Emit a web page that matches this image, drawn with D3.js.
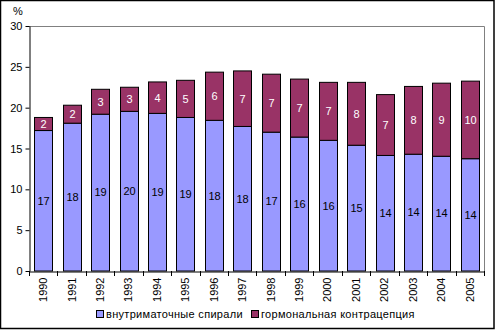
<!DOCTYPE html>
<html><head><meta charset="utf-8">
<script src="https://cdn.jsdelivr.net/npm/d3@7"></script>
<style>body{margin:0;background:#fff}svg{display:block}</style>
</head><body>
<script>
const years = ["1990","1991","1992","1993","1994","1995","1996","1997","1998","1999","2000","2001","2002","2003","2004","2005"];
const iud = [17.2,18.1,19.2,19.55,19.3,18.8,18.45,17.7,17.0,16.4,16.0,15.4,14.15,14.3,14.05,13.75];
const hormonal = [1.6,2.2,3.05,2.95,3.85,4.55,5.9,6.8,7.1,7.1,7.1,7.7,7.45,8.3,8.95,9.5];
const seriesNames = ["внутриматочные спирали","гормональная контрацепция"];
const yTicks = [0,5,10,15,20,25,30];

const W=495,H=330;
const font="'Liberation Sans', Arial, sans-serif";
const svg=d3.select("body").append("svg").attr("width",W).attr("height",H);
svg.append("rect").attr("x",0.5).attr("y",0.5).attr("width",W-1.5).attr("height",H-2).attr("fill","#fff").attr("stroke","#000").attr("stroke-width",1.5);

const x=d3.scaleBand().domain(years).range([29,484]).paddingInner(0.37).paddingOuter(0.185);
const y=d3.scaleLinear().domain([0,30]).range([271,26]);

// plot border top/right gray
svg.append("path").attr("d",`M29,${y(30)+0.5}H484.5V271`).attr("fill","none").attr("stroke","#808080");

const data=years.map((yr,i)=>({yr,a:iud[i],b:hormonal[i]}));
const g=svg.append("g");
data.forEach(d=>{
  const bx=Math.round(x(d.yr))+0.5, bw=Math.round(x.bandwidth());
  g.append("rect").attr("x",bx).attr("y",y(d.a)).attr("width",bw).attr("height",y(0)-y(d.a)).attr("fill","#9999FF").attr("stroke","#000");
  g.append("rect").attr("x",bx).attr("y",y(d.a+d.b)).attr("width",bw).attr("height",y(d.a)-y(d.a+d.b)).attr("fill","#993366").attr("stroke","#000");
  g.append("text").attr("x",bx+bw/2).attr("y",(y(0)+y(d.a))/2).attr("dy","0.35em").attr("text-anchor","middle")
    .attr("font-family",font).attr("font-size",11).attr("fill","#000").text(Math.round(d.a));
  g.append("text").attr("x",bx+bw/2).attr("y",(y(d.a)+y(d.a+d.b))/2).attr("dy","0.35em").attr("text-anchor","middle")
    .attr("font-family",font).attr("font-size",11).attr("fill","#fff").text(Math.round(d.b));
});

// y axis
const ya=svg.append("g").attr("transform","translate(29.5,0)")
  .call(d3.axisLeft(y).tickValues(yTicks).tickSize(4).tickPadding(3).tickSizeOuter(0));
ya.select(".domain").attr("stroke","#000");
ya.selectAll("text").attr("font-family",font).attr("font-size",11).attr("fill","#000");
ya.selectAll("line").attr("stroke","#000");

// x axis
const xa=svg.append("g").attr("transform","translate(0,271.5)")
  .call(d3.axisBottom(x).tickSize(0).tickSizeOuter(0));
xa.select(".domain").attr("stroke","#000");
xa.selectAll("text").attr("font-family",font).attr("font-size",11).attr("fill","#000")
  .attr("transform","rotate(-90)").attr("text-anchor","end").attr("x",-6).attr("y",0).attr("dy","0.35em");
// boundary ticks
const step=x.step();
years.forEach((yr,i)=>{
  const bx=Math.round(x(yr)-x.paddingInner()*step/2)+0.5;
  svg.append("line").attr("x1",bx).attr("x2",bx).attr("y1",271).attr("y2",276).attr("stroke","#000");
});
svg.append("line").attr("x1",484.5).attr("x2",484.5).attr("y1",271).attr("y2",276).attr("stroke","#000");

svg.append("text").attr("x",18).attr("y",11).attr("dy","0.35em").attr("text-anchor","middle")
  .attr("font-family",font).attr("font-size",11).text("%");

// legend
const leg=[{name:seriesNames[0],c:"#9999FF",x:96},{name:seriesNames[1],c:"#993366",x:251}];
leg.forEach(l=>{
  svg.append("rect").attr("x",l.x+0.5).attr("y",310.5).attr("width",7).attr("height",7).attr("fill",l.c).attr("stroke","#000");
  svg.append("text").attr("x",l.x+10).attr("y",314).attr("dy","0.35em").attr("font-family",font).attr("font-size",11)
    .attr("letter-spacing","0.3px").text(l.name);
});
</script>
</body></html>
